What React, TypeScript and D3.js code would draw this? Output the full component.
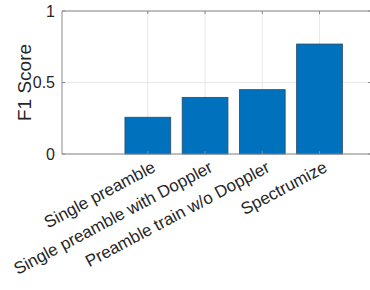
import React from "react";
import * as d3 from "d3";

// categories along x (first slot is empty in the original figure)
const categories = ["", "Single preamble", "Single preamble with Doppler", "Preamble train w/o Doppler", "Spectrumize"];
const scores: (number | null)[] = [null, 0.257, 0.396, 0.45, 0.769];
const yTicks = [0, 0.5, 1];
const yTickLabels = ["0", "0.5", "1"];

const W = 370;
const H = 290;
const FONT = "'Liberation Sans', Arial, Helvetica, sans-serif";

export default function App() {
  const margin = { top: 11, left: 62, bottom: 154, right: 371 };

  const x = d3.scaleLinear().domain([0.5, 5.9]).range([margin.left, margin.right]);
  const y = d3.scaleLinear().domain([0, 1]).range([margin.bottom, margin.top]);

  const slot = x(2) - x(1);
  const barW = slot * 0.8;

  // ticks only where there is a label
  const xTicks = categories.map((c, i) => ({ c, pos: i + 1 })).filter(d => d.c !== "");

  const axisColor = "#8a8a8a";
  const gridColor = "#e8e8e8";

  return (
    <svg width={W} height={H} style={{ position: "absolute", left: 0, top: 0, background: "#fff" }}>
      {/* grid */}
      {xTicks.map(d => (
        <line key={"gx" + d.pos} x1={x(d.pos)} x2={x(d.pos)} y1={y(0)} y2={y(1)} stroke={gridColor} strokeWidth={1} />
      ))}
      {yTicks.map(t => (
        <line key={"gy" + t} x1={x.range()[0]} x2={x.range()[1]} y1={y(t)} y2={y(t)} stroke={gridColor} strokeWidth={1} />
      ))}

      {/* bars */}
      {scores.map((v, i) =>
        v == null ? null : (
          <rect
            key={"b" + i}
            x={x(i + 1) - barW / 2}
            y={y(v)}
            width={barW}
            height={y(0) - y(v)}
            fill="#0072BD"
            stroke="#2b4a66"
            strokeWidth={0.8}
          />
        )
      )}

      {/* box */}
      <line x1={x.range()[0]} x2={x.range()[1]} y1={y(1)} y2={y(1)} stroke={axisColor} />
      <line x1={x.range()[0]} x2={x.range()[1]} y1={y(0)} y2={y(0)} stroke={axisColor} />
      <line x1={x.range()[0]} x2={x.range()[0]} y1={y(0)} y2={y(1)} stroke={axisColor} />

      {/* ticks */}
      {xTicks.map(d => (
        <g key={"tx" + d.pos}>
          <line x1={x(d.pos)} x2={x(d.pos)} y1={y(0)} y2={y(0) - 3} stroke={axisColor} />
          <line x1={x(d.pos)} x2={x(d.pos)} y1={y(1)} y2={y(1) + 3} stroke={axisColor} />
        </g>
      ))}
      {yTicks.map(t => (
        <g key={"ty" + t}>
          <line x1={x.range()[0]} x2={x.range()[0] + 3} y1={y(t)} y2={y(t)} stroke={axisColor} />
          <line x1={x.range()[1] - 3} x2={x.range()[1]} y1={y(t)} y2={y(t)} stroke={axisColor} />
        </g>
      ))}

      {/* y tick labels */}
      {yTicks.map((t, i) => (
        <text key={"yl" + t} x={x.range()[0] - 7} y={y(t)} dy="0.36em" textAnchor="end" fontFamily={FONT} fontSize={16} fill="#262626">
          {yTickLabels[i]}
        </text>
      ))}

      {/* x tick labels */}
      {xTicks.map(d => (
        <text
          key={"xl" + d.pos}
          transform={`translate(${x(d.pos) + 3},${y(0) + 6}) rotate(-28)`}
          dy="0.72em"
          textAnchor="end"
          fontFamily={FONT}
          fontSize={17}
          fill="#262626"
        >
          {d.c}
        </text>
      ))}

      {/* y label */}
      <text
        transform={`translate(31,${(y(0) + y(1)) / 2}) rotate(-90)`}
        textAnchor="middle"
        fontFamily={FONT}
        fontSize={19}
        fill="#262626"
      >
        F1 Score
      </text>
    </svg>
  );
}
